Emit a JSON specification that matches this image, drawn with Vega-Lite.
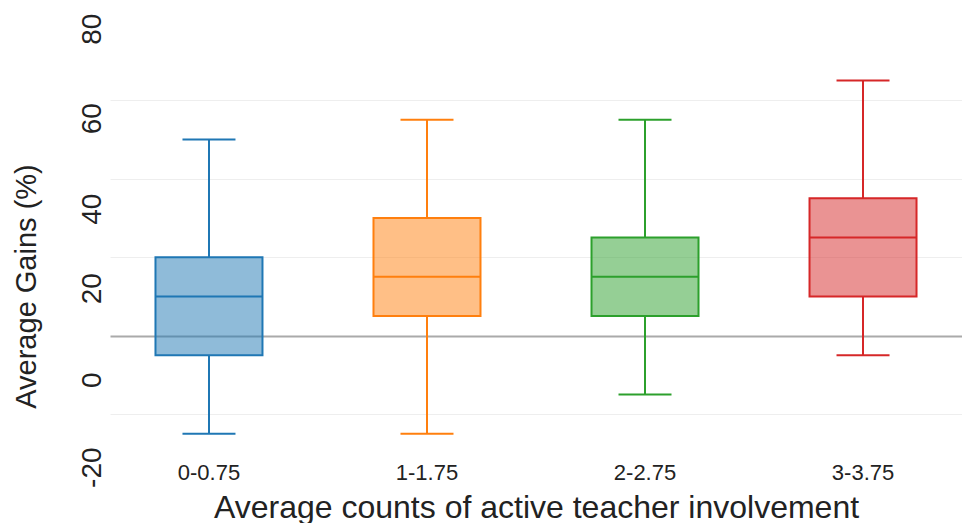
{
  "$schema": "https://vega.github.io/schema/vega-lite/v6.json",
  "autosize": {"type": "none"},
  "padding": {"left": 110, "top": 20, "right": 0, "bottom": 78},
  "width": 852,
  "height": 425,
  "background": "white",
  "config": {
    "view": {"stroke": null},
    "font": "Liberation Sans",
    "axis": {"labelColor": "#222", "titleColor": "#222", "titleFontWeight": "normal"}
  },
  "data": {
    "values": [
      {"grp": "0-0.75", "lo": -25, "q1": -5, "med": 10, "q3": 20, "hi": 50},
      {"grp": "1-1.75", "lo": -25, "q1": 5, "med": 15, "q3": 30, "hi": 55},
      {"grp": "2-2.75", "lo": -15, "q1": 5, "med": 15, "q3": 25, "hi": 55},
      {"grp": "3-3.75", "lo": -5, "q1": 10, "med": 25, "q3": 35, "hi": 65}
    ]
  },
  "encoding": {
    "x": {
      "field": "grp",
      "type": "nominal",
      "sort": ["0-0.75", "1-1.75", "2-2.75", "3-3.75"],
      "scale": {"paddingInner": 0.092, "paddingOuter": 0},
      "axis": {
        "title": "Average counts of active teacher involvement",
        "labelAngle": 0,
        "labelFontSize": 22,
        "labelPadding": 34,
        "labelBaseline": "alphabetic",
        "ticks": false,
        "domain": false,
        "grid": false,
        "titleFontSize": 32,
        "titleY": 72,
        "titleBaseline": "alphabetic"
      }
    },
    "color": {
      "field": "grp",
      "type": "nominal",
      "scale": {"domain": ["0-0.75", "1-1.75", "2-2.75", "3-3.75"], "range": ["#1f77b4", "#ff7f0e", "#2ca02c", "#d62728"]},
      "legend": null
    }
  },
  "layer": [
    {
      "mark": {"type": "rule", "strokeWidth": 2},
      "encoding": {
        "y": {
          "field": "lo",
          "type": "quantitative",
          "scale": {"domain": [-27.85, 80.43], "nice": false, "zero": false},
          "axis": {
            "values": [-20, 0, 20, 40, 60, 80],
            "labelExpr": "'' + datum.value",
            "title": "Average Gains (%)",
            "titleFontSize": 29,
            "titleAngle": -90,
            "titleAlign": "center",
            "titleBaseline": "alphabetic",
            "titleX": -75,
            "titleY": 266,
            "labelAngle": -90,
            "labelAlign": "center",
            "labelBaseline": "alphabetic",
            "labelFontSize": 28,
            "labelPadding": 10,
            "labelOverlap": false,
            "labelBound": false,
            "labelOffset": {"expr": "datum.value == 80 ? 7 : datum.value == 60 ? 18 : datum.value == 40 ? 30 : datum.value == 20 ? 31 : datum.value == 0 ? 44 : 53"},
            "ticks": false,
            "domain": false,
            "grid": true,
            "gridColor": {"condition": {"test": "datum.value == 0", "value": "#aaaaaa"}, "value": "#eeeeee"},
            "gridWidth": {"condition": {"test": "datum.value == 0", "value": 2}, "value": 1},
            "gridOpacity": {"condition": {"test": "datum.value == 80", "value": 0}, "value": 1}
          }
        },
        "y2": {"field": "q1"}
      }
    },
    {
      "mark": {"type": "rule", "strokeWidth": 2},
      "encoding": {
        "y": {"field": "q3", "type": "quantitative"},
        "y2": {"field": "hi"}
      }
    },
    {
      "mark": {"type": "bar", "size": 107, "fillOpacity": 0.5, "strokeWidth": 2},
      "encoding": {
        "y": {"field": "q1", "type": "quantitative"},
        "y2": {"field": "q3"},
        "stroke": {
          "field": "grp",
          "type": "nominal",
          "scale": {"domain": ["0-0.75", "1-1.75", "2-2.75", "3-3.75"], "range": ["#1f77b4", "#ff7f0e", "#2ca02c", "#d62728"]},
          "legend": null
        }
      }
    },
    {
      "mark": {"type": "tick", "size": 107, "thickness": 2, "opacity": 1},
      "encoding": {"y": {"field": "med", "type": "quantitative"}}
    },
    {
      "mark": {"type": "tick", "size": 53, "thickness": 2, "opacity": 1},
      "encoding": {"y": {"field": "lo", "type": "quantitative"}}
    },
    {
      "mark": {"type": "tick", "size": 53, "thickness": 2, "opacity": 1},
      "encoding": {"y": {"field": "hi", "type": "quantitative"}}
    }
  ]
}
